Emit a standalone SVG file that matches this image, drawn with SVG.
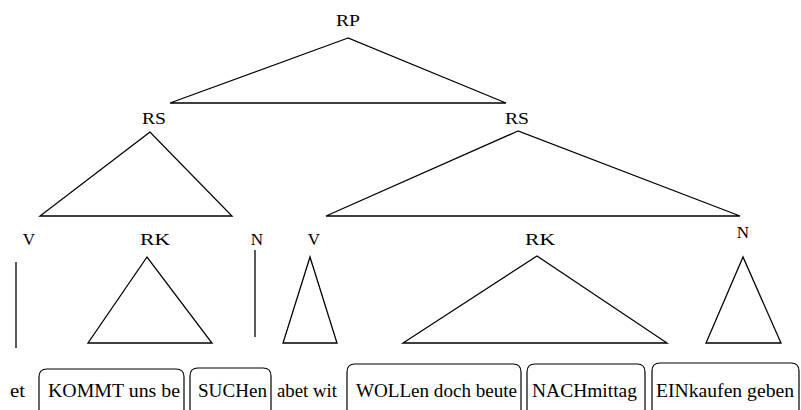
<svg xmlns="http://www.w3.org/2000/svg" width="801" height="410" viewBox="0 0 801 410">
<style>
.lbl{font-family:"Liberation Serif","DejaVu Serif",serif;font-size:17px;fill:#000;text-anchor:middle}
.wd{font-family:"Liberation Serif","DejaVu Serif",serif;font-size:19px;fill:#000}
.tri{fill:none;stroke:#000;stroke-width:1.3;stroke-linejoin:miter}
.box{fill:none;stroke:#000;stroke-width:1.2}
</style>
<rect width="801" height="410" fill="#fff"/>
<g id="connectors">
<polygon class="tri" points="348,38 170,103 506,103"/>
<polygon class="tri" points="150,132 40,216 232,216"/>
<polygon class="tri" points="518,131 326,216 740,216"/>
<line class="tri" x1="16" y1="262" x2="16" y2="348"/>
<polygon class="tri" points="147,257 88,343 212,343"/>
<line class="tri" x1="255" y1="250" x2="255" y2="337"/>
<polygon class="tri" points="310,257 283,343 337,343"/>
<polygon class="tri" points="537,256 403,343 667,343"/>
<polygon class="tri" points="743,257 706,343 781,343"/>
</g>
<g id="RP"><text class="lbl" x="348" y="26" textLength="24" lengthAdjust="spacingAndGlyphs">RP</text></g>
<g id="RS1"><text class="lbl" x="154" y="124" textLength="24" lengthAdjust="spacingAndGlyphs">RS</text></g>
<g id="RS2"><text class="lbl" x="517" y="124" textLength="24" lengthAdjust="spacingAndGlyphs">RS</text></g>
<g id="V1"><text class="lbl" x="29" y="245">V</text></g>
<g id="RK1"><text class="lbl" x="155" y="245" textLength="30" lengthAdjust="spacingAndGlyphs">RK</text></g>
<g id="N1"><text class="lbl" x="257" y="245">N</text></g>
<g id="V2"><text class="lbl" x="314" y="245">V</text></g>
<g id="RK2"><text class="lbl" x="540" y="245" textLength="30" lengthAdjust="spacingAndGlyphs">RK</text></g>
<g id="N2"><text class="lbl" x="743" y="238">N</text></g>
<g id="w-et"><text class="wd" x="10" y="397" textLength="15" lengthAdjust="spacingAndGlyphs">et</text></g>
<g id="w-kommt">
<path class="box" d="M39,410 V377 Q39,369 47,369 H176 Q184,369 184,377 V410"/>
<text class="wd" x="48" y="397" textLength="132" lengthAdjust="spacingAndGlyphs">KOMMT uns be</text>
</g>
<g id="w-suchen">
<path class="box" d="M190,410 V376 Q190,368 198,368 H263 Q271,368 271,376 V410"/>
<text class="wd" x="198" y="397" textLength="69" lengthAdjust="spacingAndGlyphs">SUCHen</text>
</g>
<g id="w-abet"><text class="wd" x="277" y="397" textLength="60" lengthAdjust="spacingAndGlyphs">abet wit</text></g>
<g id="w-wollen">
<path class="box" d="M347,410 V372 Q347,364 355,364 H513 Q521,364 521,372 V410"/>
<text class="wd" x="356" y="397" textLength="161" lengthAdjust="spacingAndGlyphs">WOLLen doch beute</text>
</g>
<g id="w-nach">
<path class="box" d="M527,410 V372 Q527,364 535,364 H637 Q645,364 645,372 V410"/>
<text class="wd" x="532" y="397" textLength="105" lengthAdjust="spacingAndGlyphs">NACHmittag</text>
</g>
<g id="w-ein">
<path class="box" d="M652,410 V371 Q652,363 660,363 H791 Q799,363 799,371 V410"/>
<text class="wd" x="656" y="397" textLength="138" lengthAdjust="spacingAndGlyphs">EINkaufen geben</text>
</g>
</svg>
